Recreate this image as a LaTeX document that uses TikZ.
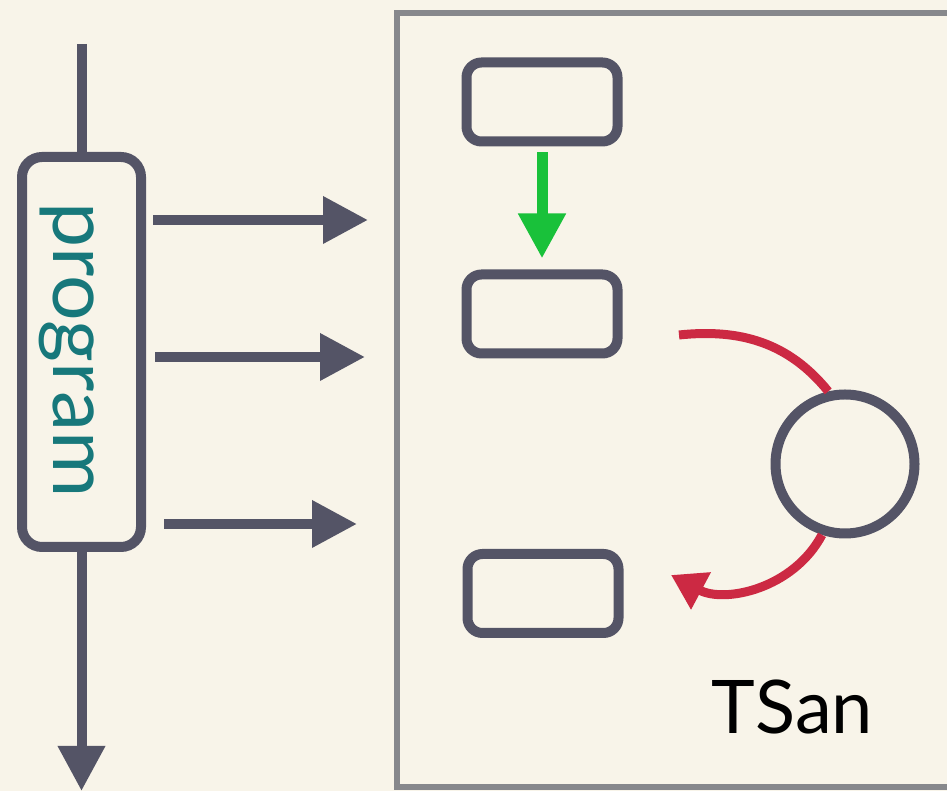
\documentclass[tikz,border=0pt]{standalone}
\usepackage{fontspec}
\setmainfont{Lato}
\usetikzlibrary{arrows.meta}
\definecolor{bg}{HTML}{F8F4E9}
\definecolor{ink}{HTML}{545466}
\definecolor{teal}{HTML}{17787B}
\definecolor{tred}{HTML}{CC2943}
\definecolor{tgreen}{HTML}{19C13A}
\definecolor{frame}{HTML}{87888C}
\tikzset{
  progbox/.style={draw=ink, line width=10pt, rounded corners=20pt, minimum width=119pt, minimum height=390pt, inner sep=0pt},
  evbox/.style={draw=ink, line width=10pt, rounded corners=15pt, minimum width=151pt, minimum height=79pt, inner sep=0pt},
  lockcirc/.style={draw=ink, line width=10pt, circle, minimum size=139pt, inner sep=0pt},
  flow/.style={draw=ink, line width=10pt, -{Triangle[length=45pt,width=45pt]}},
  hb/.style={draw=tgreen, line width=11pt, -{Triangle[length=45pt,width=45pt]}},
  race/.style={draw=tred, line width=9pt},
  racetip/.style={race, -{Triangle[length=34pt,width=40pt]}},
}
\begin{document}
\begin{tikzpicture}[x=1pt,y=1pt]
\fill[bg] (0,0) rectangle (947,791);
\useasboundingbox (0,0) rectangle (947,791);
% TSan frame
\draw[frame, line width=6pt] (1000,778) -- (397,778) -- (397,4) -- (1000,4);
% program
\node[progbox] (prog) at (81.5,439) {};
\node[rotate=-90, text=teal, font=\fontsize{79}{84}\selectfont, xscale=1.02] (progtxt) at (67,441) {program};
\coordinate (top) at (81.5,747);
\coordinate (bot) at (81.5,0);
\draw[draw=ink, line width=10pt] (top) -- (prog.north);
\draw[flow] (prog.south) -- (bot);
% arrows into TSan
\coordinate (a1s) at (153,571); \coordinate (a1e) at (368,571);
\coordinate (a2s) at (155,434); \coordinate (a2e) at (365,434);
\coordinate (a3s) at (164,267); \coordinate (a3e) at (357,267);
\draw[flow] (a1s) -- (a1e);
\draw[flow] (a2s) -- (a2e);
\draw[flow] (a3s) -- (a3e);
% events
\node[evbox] (e1) at (542,689) {};
\node[evbox] (e2) at (542,477) {};
\node[evbox] (e3) at (543,197.5) {};
\draw[hb] ([yshift=-6pt]e1.south) -- ([yshift=11pt]e2.north);
% lock
\node[lockcirc] (lock) at (845,327) {};
\coordinate (r1s) at (679,456);
\coordinate (r2e) at (671,216);
\draw[race] (r1s) to[out=6,in=129] (lock.103);
\draw[racetip] (lock.252) to[out=-118,in=-28] (r2e);
% label
\node[anchor=base, font=\fontsize{74}{80}\selectfont, inner sep=0pt] (tsan) at (792.5,57) {TSan};
\end{tikzpicture}
\end{document}
